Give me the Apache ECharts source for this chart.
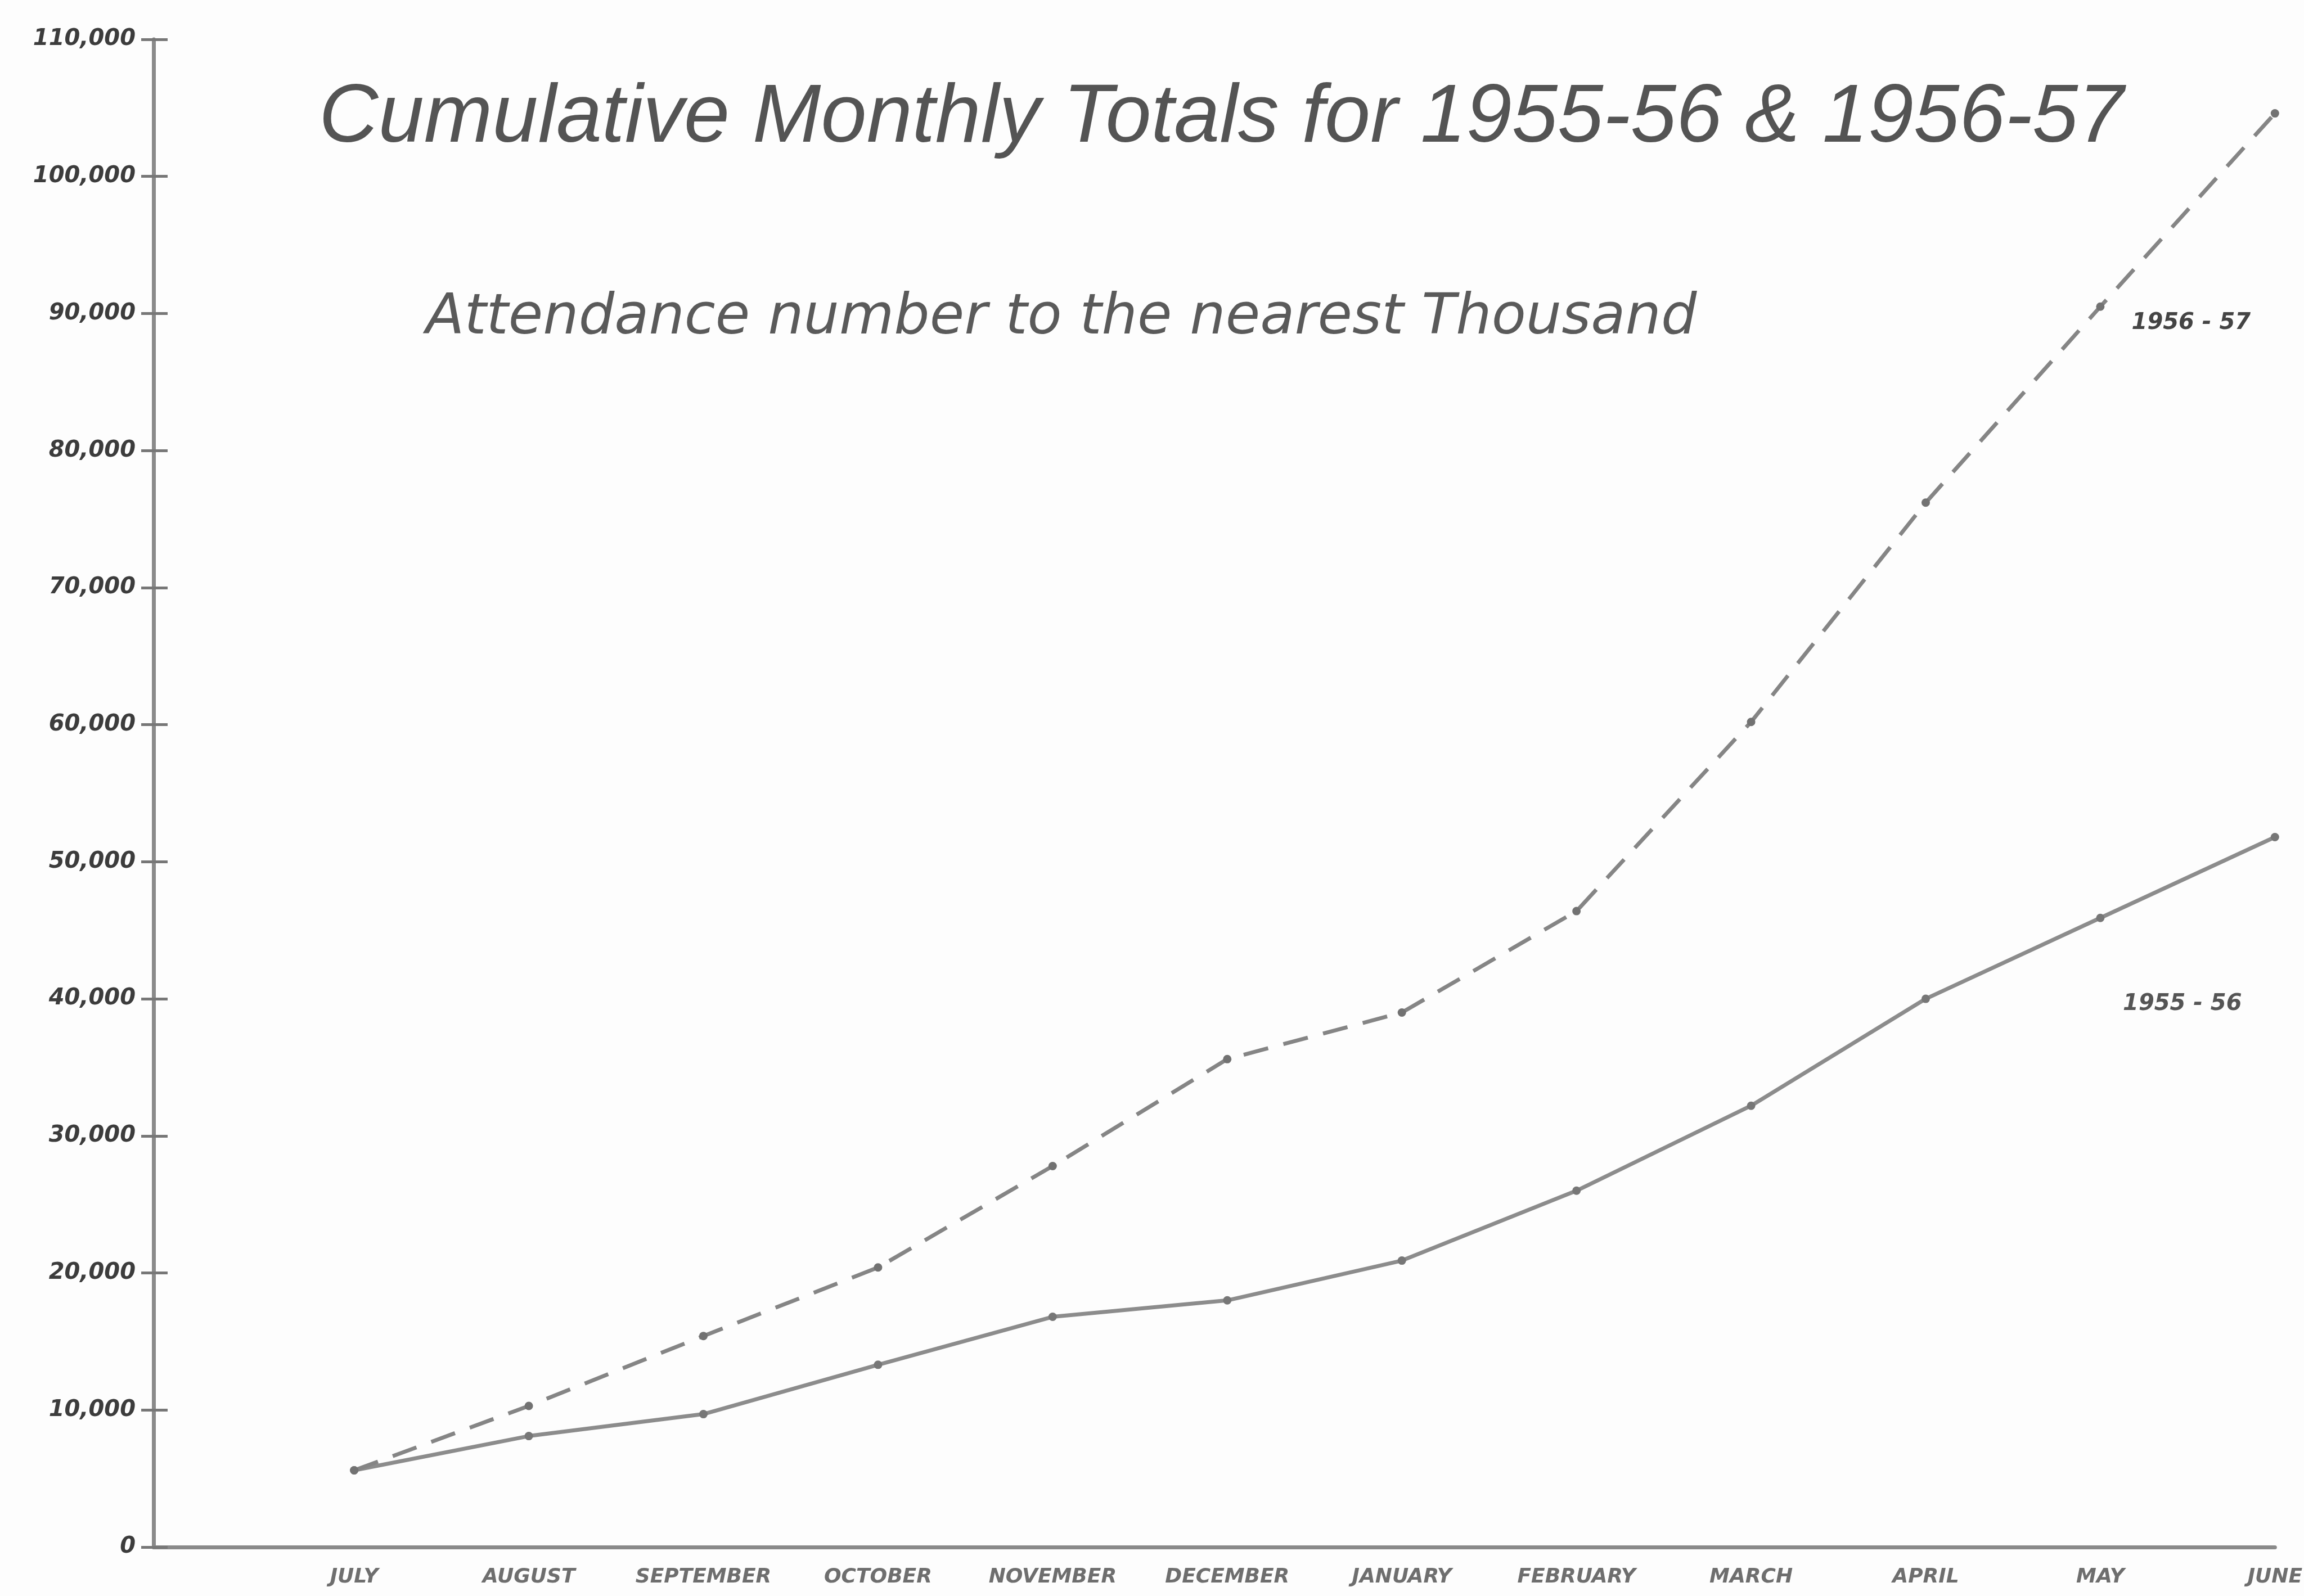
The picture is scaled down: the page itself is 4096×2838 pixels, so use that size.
<!DOCTYPE html>
<html><head><meta charset="utf-8">
<script src="https://cdn.jsdelivr.net/npm/echarts@6/dist/echarts.min.js"></script>
<style>html,body{margin:0;padding:0;background:#fdfdfd}#c{width:4096px;height:2838px}</style>
</head><body><div id="c"></div>
<script>
const months = ['JULY','AUGUST','SEPTEMBER','OCTOBER','NOVEMBER','DECEMBER','JANUARY','FEBRUARY','MARCH','APRIL','MAY','JUNE'];
const attendance1955_56 = [5600, 8100, 9700, 13300, 16800, 18000, 20900, 26000, 32200, 40000, 45900, 51800];
const attendance1956_57 = [5600, 10300, 15400, 20400, 27800, 35600, 39000, 46400, 60200, 76200, 90500, 104600];
const seriesNames = ['1955 - 56', '1956 - 57'];
const titleText = 'Cumulative Monthly Totals for 1955-56 & 1956-57';
const subtitleText = 'Attendance number to the nearest Thousand';

const chart = echarts.init(document.getElementById('c'), null, {renderer:'canvas'});
const labelFont = {fontFamily:'DejaVu Sans', fontStyle:'italic', fontWeight:'bold'};
chart.setOption({
  animation:false,
  backgroundColor:'#fdfdfd',
  title:[
    {text:titleText, left:562, top:133,
     textStyle:{fontFamily:"'Liberation Sans'", fontStyle:'italic', fontWeight:'normal', fontSize:146, color:'#545454'}},
    {text:subtitleText, left:752, top:512,
     textStyle:{fontFamily:'DejaVu Sans', fontStyle:'italic', fontWeight:'normal', fontSize:100, color:'#5a5a5a'}}
  ],
  grid:{left:273, right:47, top:70, bottom:87},
  xAxis:{
    type:'value', min:-1.149, max:11,
    axisLine:{show:true, onZero:false, lineStyle:{color:'#8a8a8a', width:7}},
    axisTick:{show:false}, splitLine:{show:false},
    axisLabel:Object.assign({customValues: months.map((m,i)=>i), formatter:v=>months[Math.round(v)], fontSize:36, color:'#6e6e6e', margin:36, hideOverlap:false}, labelFont)
  },
  yAxis:[{
    type:'value', min:0, max:110000, interval:10000,
    axisLine:{show:true, onZero:false, lineStyle:{color:'#8a8a8a', width:7}},
    axisTick:{show:true, length:22, lineStyle:{color:'#777', width:5}},
    splitLine:{show:false},
    axisLabel:Object.assign({formatter:v=>v.toLocaleString('en-US'), fontSize:40, color:'#3c3c3c', margin:32}, labelFont)
  },{
    type:'value', min:0, max:110000, interval:10000, position:'left',
    axisLine:{show:false, onZero:false}, axisLabel:{show:false}, splitLine:{show:false},
    axisTick:{show:true, inside:true, length:25, lineStyle:{color:'#777', width:5}}
  }],
  series:[
    {name:seriesNames[0], type:'line', data:attendance1955_56.map((v,i)=>[i,v]),
     symbol:'circle', symbolSize:15, lineStyle:{color:'#8c8c8c', width:7}, itemStyle:{color:'#777'},
     markPoint:{symbol:'circle', symbolSize:1, itemStyle:{color:'rgba(0,0,0,0)'},
       data:[{coord:[10.47, 39600]}],
       label:Object.assign({show:true, position:'inside', formatter:seriesNames[0], fontSize:40, color:'#555'}, labelFont)}},
    {name:seriesNames[1], type:'line', data:attendance1956_57.map((v,i)=>[i,v]),
     symbol:'circle', symbolSize:15, lineStyle:{color:'#858585', width:7, type:[45,28]}, itemStyle:{color:'#727272'},
     markPoint:{symbol:'circle', symbolSize:1, itemStyle:{color:'rgba(0,0,0,0)'},
       data:[{coord:[10.52, 89300]}],
       label:Object.assign({show:true, position:'inside', formatter:seriesNames[1], fontSize:40, color:'#444'}, labelFont)}}
  ]
});
</script></body></html>
